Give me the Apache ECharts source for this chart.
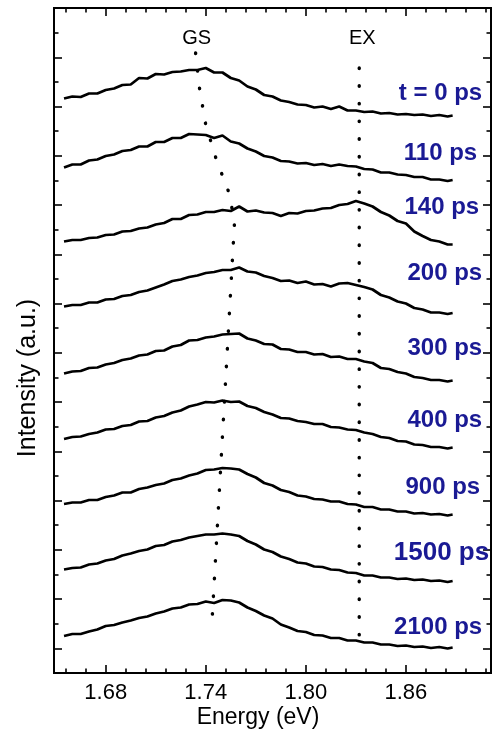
<!DOCTYPE html>
<html>
<head>
    <meta charset="utf-8">
    <title>Transient spectra</title>
    <script src="https://cdn.jsdelivr.net/npm/echarts@6/dist/echarts.min.js"></script>
    <style>html, body { margin: 0; padding: 0; background: #fff; }</style>
</head>
<body>

<div id="main" style="width: 492px; height: 736px;"></div>

<script type="text/javascript">

// photon energy grid (eV), same for every spectrum
var energy = [1.655, 1.660, 1.665, 1.670, 1.675, 1.680, 1.685, 1.690, 1.695, 1.700,
              1.705, 1.710, 1.715, 1.720, 1.725, 1.730, 1.735, 1.740, 1.745, 1.750,
              1.755, 1.760, 1.765, 1.770, 1.775, 1.780, 1.785, 1.790, 1.795, 1.800,
              1.805, 1.810, 1.815, 1.820, 1.825, 1.830, 1.835, 1.840, 1.845, 1.850,
              1.855, 1.860, 1.865, 1.870, 1.875, 1.880, 1.885, 1.888];

// stacked spectra (a.u., offset already included), top to bottom
var delays = ['t = 0 ps', '110 ps', '140 ps', '200 ps', '300 ps', '400 ps', '900 ps', '1500 ps', '2100 ps'];

var s0 = [574.5,576.5,576,579.5,579.5,583,584.5,588,588.5,595,594.5,599,598.5,601,601.5,603,603,605,600.5,600.5,595,592.5,586.5,583.5,578,576.5,572.5,571,568.5,568,565.5,566.5,564,566.5,562.5,562.5,561,561.5,559.5,560,558.5,559,558,558.5,557,558,556.5,557.5];
var s110 = [505.5,508.5,508.5,512.5,513.5,517,518.5,522,523,526.5,526.5,531,531,535,535,539,538.5,538,535,537.5,531.5,529.5,524.5,521.5,517,515.5,512,511.5,509.5,510,508,509,507,508.5,507,506.5,504,503.5,500.5,500.5,498.5,498,496,496,493.5,493.5,492,493];
var s140 = [431.5,433,433,435,435.5,438,438.5,441.5,442,444.5,445.5,448.5,450,454,454,458,458.5,461,461,463,462,466.5,461.5,462.5,460.5,460,457,460,459.5,462,462.5,464.5,465,468,469,472,469.5,466.5,461,457.5,452,449.5,441.5,437,433,431.5,428.5,428.5];
var s200 = [366.5,368,368,370.5,370.5,373.5,374,377,378,381,382.5,385.5,388.5,392,393.5,396,397.5,400,401,403,403,405.5,401.5,400.5,397,395,392,392.5,390,391.5,388.5,389,386.5,389.5,390,388,386,383.5,378,375.5,371.5,369.5,365,363.5,360.5,360.5,359,360];
var s300 = [299.5,301.5,302,305,305.5,308.5,310,313,314.5,317.5,318.5,322,322.5,326.5,328,332.5,333,335.5,336.5,338.5,339,339.5,334.5,332.5,329,328.5,324,323.5,321,321,318.5,319,316,316.5,314,314,311.5,310,305,304,301,299.5,296,295,293,293,291.5,292.5];
var s400 = [234,236,236.5,239,240.5,243.5,244,247,248,251.5,252,255.5,257,260.5,262.5,266.5,268.5,271,270.5,272.5,271,271.5,267,265,261,258.5,255,254.5,252,251,249,249,246,245.5,243.5,243,240.5,239,236,235,232,231.5,228.5,228,226,226,224.5,225.5];
var s900 = [169,170.5,170.5,173,173,176,177.5,180.5,180.5,184,185.5,188,189.5,193,194.5,197.5,199.5,203,203.5,205,204.5,203.5,199,195.5,190,187.5,183,181,177.5,176.5,174,173.5,171.5,171.5,169,168.5,166,166,163.5,163.5,161.5,161.5,159.5,160,158.5,159,157.5,158.5];
var s1500 = [103.5,105,105.5,108.5,109.5,112.5,114,117.5,119.5,122,123.5,127,128,131.5,133,135.5,137,138.5,138.5,139.5,138.5,137,132,128.5,123.5,121,116.5,114,110.5,109.5,106.5,106,103.5,103,100.5,100,97.5,97.5,95.5,95.5,94,94.5,93,93.5,92,92.5,91,92];
var s2100 = [37,39,39,41.5,43.5,47,48,50.5,52.5,55,56.5,59.5,61.5,64.5,65.5,68.5,69,71.5,70,73,72.5,70.5,65.5,62,57.5,54.5,48.5,45.5,42,41,38,37.5,35,35,32.5,32.5,30.5,30.5,28.5,28.5,27,27.5,26,26.5,25,26,24.5,25.5];

var spectra = [s0, s110, s140, s200, s300, s400, s900, s1500, s2100];

// where the delay labels sit (right edge energy, height)
var delayLabelX = [1.9057, 1.9027, 1.9039, 1.9057, 1.9057, 1.9057, 1.9045, 1.9099, 1.9057];
var delayLabelY = [580, 520, 466, 400, 325, 253, 186, 120, 46];

// guide lines for the two peaks
var gsTrack = [[1.7339, 620], [1.7363, 584], [1.7399, 549], [1.7464, 513], [1.7542, 479], [1.7572, 450], [1.7435, 45]];
var exTrack = [[1.8320, 605], [1.8320, 26]];
var peakNames = ['GS', 'EX'];
var peakNameX = [1.7345, 1.8338];
var peakNameY = [635, 635];

var xMajorTicks = [1.68, 1.74, 1.80, 1.86];
var xMinorTicks = [1.656, 1.668, 1.692, 1.704, 1.716, 1.728, 1.752, 1.764, 1.776, 1.788,
                   1.812, 1.824, 1.836, 1.848, 1.872, 1.884, 1.896, 1.908];

var X_MIN = 1.649, X_MAX = 1.911;
var Y_MAX = 665;
var yStep = Y_MAX / 27;
var yMajorTicks = [], yMinorTicks = [];
for (var k = 1; k < 27; k++) {
    if (k % 2 === 1) yMajorTicks.push(k * yStep);
    else yMinorTicks.push(k * yStep);
}

var FONT = '"Liberation Sans", Arial, Helvetica, sans-serif';

function frameAxis(pos, min, max, ticks, len) {
    return {
        type: 'value',
        position: pos,
        min: min,
        max: max,
        axisLine: { show: true, onZero: false, lineStyle: { color: '#000', width: 2 } },
        axisTick: { show: true, inside: true, length: len, customValues: ticks,
                    lineStyle: { color: '#000', width: 1.6 } },
        axisLabel: { show: false },
        splitLine: { show: false }
    };
}

var xAxes = [
    frameAxis('bottom', X_MIN, X_MAX, xMajorTicks, 8),
    frameAxis('bottom', X_MIN, X_MAX, xMinorTicks, 4.5),
    frameAxis('top', X_MIN, X_MAX, xMajorTicks, 8),
    frameAxis('top', X_MIN, X_MAX, xMinorTicks, 4.5)
];
xAxes[0].axisLabel = {
    show: true, customValues: xMajorTicks, margin: 9,
    fontSize: 22, color: '#000', fontFamily: FONT,
    formatter: function (v) { return v.toFixed(2); }
};

var yAxes = [
    frameAxis('left', 0, Y_MAX, yMajorTicks, 8),
    frameAxis('left', 0, Y_MAX, yMinorTicks, 4.5),
    frameAxis('right', 0, Y_MAX, yMajorTicks, 8),
    frameAxis('right', 0, Y_MAX, yMinorTicks, 4.5)
];

var series = [];

spectra.forEach(function (vals, i) {
    series.push({
        name: delays[i],
        type: 'line',
        showSymbol: false,
        data: energy.map(function (e, j) { return [e, vals[j]]; }),
        lineStyle: { color: '#000', width: 2.7 },
        z: 3
    });
});

[gsTrack, exTrack].forEach(function (track) {
    series.push({
        type: 'line',
        showSymbol: false,
        data: track,
        lineStyle: { color: '#000', width: 3.4, type: [0.5, 17.2], cap: 'round' },
        z: 4
    });
});

// delay labels
series.push({
    type: 'scatter',
    symbolSize: 0,
    itemStyle: { opacity: 1 },
    data: delays.map(function (d, i) {
        return { name: d, value: [delayLabelX[i], delayLabelY[i]],
                 label: { fontSize: d === '1500 ps' ? 26 : 24 } };
    }),
    label: {
        show: true, position: 'left', distance: 0,
        formatter: '{b}', color: '#1a1a94', fontWeight: 'bold', fontFamily: FONT
    },
    z: 5
});

// peak names
series.push({
    type: 'scatter',
    symbolSize: 0,
    itemStyle: { opacity: 1 },
    data: peakNames.map(function (n, i) { return { name: n, value: [peakNameX[i], peakNameY[i]] }; }),
    label: {
        show: true, position: 'inside', formatter: '{b}',
        color: '#000', fontSize: 20, fontFamily: FONT
    },
    z: 5
});

var myChart = echarts.init(document.getElementById('main'));
myChart.setOption({
    animation: false,
    grid: { left: 54, right: 1, top: 8, bottom: 63 },
    xAxis: xAxes,
    yAxis: yAxes,
    series: series,
    graphic: [
        {
            type: 'text', x: 258, y: 718,
            style: { text: 'Energy (eV)', fill: '#000', fontSize: 23, fontFamily: FONT,
                     align: 'center', verticalAlign: 'middle' }
        },
        {
            type: 'text', x: 28, y: 378, rotation: Math.PI / 2,
            style: { text: 'Intensity (a.u.)', fill: '#000', fontSize: 25, fontFamily: FONT,
                     align: 'center', verticalAlign: 'middle' }
        }
    ]
});

</script>
</body>
</html>
